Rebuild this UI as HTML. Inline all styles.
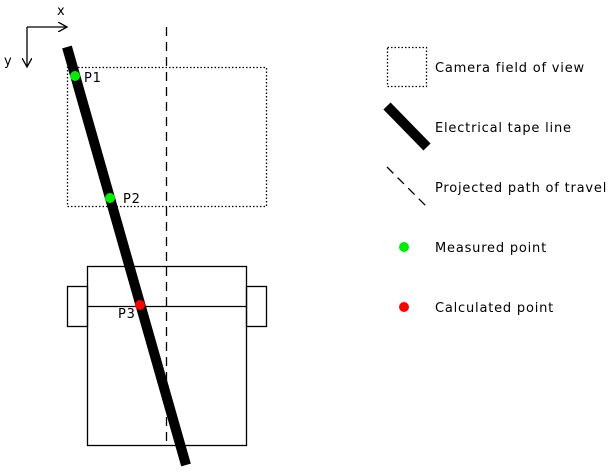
<!DOCTYPE html>
<html><head><meta charset="utf-8"><style>
html,body{margin:0;padding:0;background:#fff;}
svg{display:block;font-family:"DejaVu Sans","Liberation Sans",sans-serif;font-size:13px;letter-spacing:0.8px;}
</style></head><body>
<svg width="609" height="473" viewBox="0 0 609 473">
<defs><marker id="ah" markerWidth="10" markerHeight="10" refX="8" refY="5" orient="auto" markerUnits="userSpaceOnUse"><path d="M0,0 L9,5 L0,10" fill="none" stroke="#000" stroke-width="1.3"/></marker></defs>
<g>
<line x1="27" y1="27" x2="66" y2="27" stroke="#000" stroke-width="1.3" marker-end="url(#ah)"/>
<line x1="27" y1="27" x2="27" y2="66" stroke="#000" stroke-width="1.3" marker-end="url(#ah)"/>
<text x="57" y="15">x</text>
<text x="4" y="65">y</text>
</g>
<rect x="67.5" y="67.5" width="199" height="139" fill="none" stroke="#000" stroke-width="1.3" stroke-dasharray="1.5,2"/>
<line x1="166.5" y1="27" x2="166.5" y2="446" stroke="#000" stroke-width="1.3" stroke-dasharray="9,6"/>
<g fill="none" stroke="#000" stroke-width="1.3">
<rect x="87.5" y="266.5" width="159" height="179"/>
<line x1="87.5" y1="306.5" x2="246.5" y2="306.5"/>
<rect x="67.5" y="286.5" width="20" height="40"/>
<rect x="246.5" y="286.5" width="20" height="40"/>
</g>
<line x1="67" y1="47" x2="186" y2="465" stroke="#000" stroke-width="10"/>
<g id="pts"></g>
<g>
<rect x="387.5" y="47.5" width="39" height="39" fill="none" stroke="#000" stroke-width="1.3" stroke-dasharray="1.5,2"/>
<text x="435" y="72">Camera field of view</text>
<line x1="387" y1="106" x2="427" y2="147" stroke="#000" stroke-width="10"/>
<text x="435" y="132">Electrical tape line</text>
<line x1="387" y1="167" x2="427" y2="207" stroke="#000" stroke-width="1.3" stroke-dasharray="9,6"/>
<text x="435" y="192">Projected path of travel</text>
<circle cx="404" cy="247" r="5" fill="#00ee00"/>
<text x="435" y="252">Measured point</text>
<circle cx="404" cy="307" r="5" fill="#ff0000"/>
<text x="435" y="312">Calculated point</text>
</g>
</svg>
<script>
const pointNames=["P1","P2","P3"];
const pointX=[75,110,140];
const pointY=[76,198,305];
const pointColors=["#00ee00","#00ee00","#ff0000"];
const labelDX=[9,13,-22];
const labelDY=[6,5,13];
const g=document.getElementById('pts');
const ns="http://www.w3.org/2000/svg";
for(let i=0;i<pointNames.length;i++){
 const c=document.createElementNS(ns,'circle');
 c.setAttribute('cx',pointX[i]);c.setAttribute('cy',pointY[i]);c.setAttribute('r',5);c.setAttribute('fill',pointColors[i]);
 
 
 g.appendChild(c);
 const t=document.createElementNS(ns,'text');
 t.setAttribute('x',pointX[i]+labelDX[i]);t.setAttribute('y',pointY[i]+labelDY[i]);t.textContent=pointNames[i];
 
 
 g.appendChild(t);
}
</script>
</body></html>
